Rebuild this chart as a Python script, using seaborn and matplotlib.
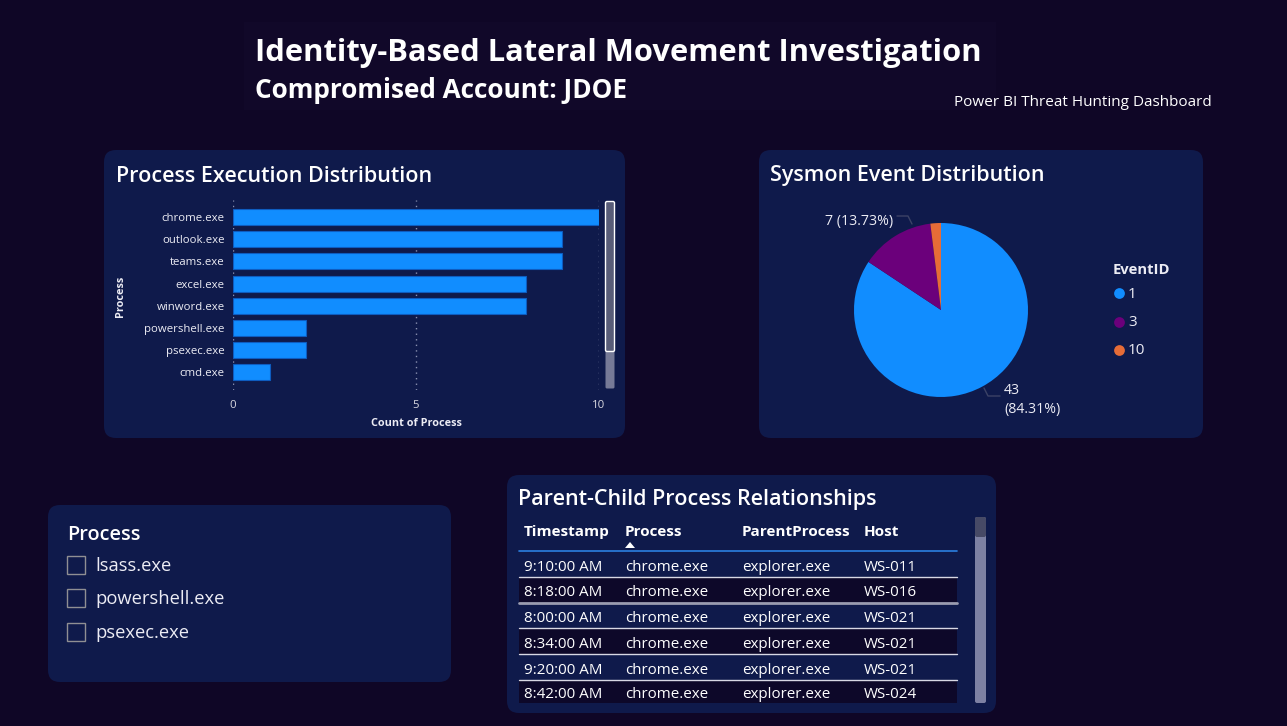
import matplotlib
matplotlib.use("Agg")
import matplotlib.pyplot as plt
from matplotlib.patches import FancyBboxPatch, Rectangle, Polygon
import seaborn as sns
import pandas as pd

# ---------------- data ----------------
processes = ["chrome.exe", "outlook.exe", "teams.exe", "excel.exe",
             "winword.exe", "powershell.exe", "psexec.exe", "cmd.exe"]
process_counts = [10, 9, 9, 8, 8, 2, 2, 1]
x_ticks = [0, 5, 10]

event_ids = ["1", "3", "10"]
event_counts = [43, 7, 1]

slicer_items = ["lsass.exe", "powershell.exe", "psexec.exe"]

table_columns = ["Timestamp", "Process", "ParentProcess", "Host"]
tbl_timestamp = ["9:10:00 AM", "8:18:00 AM", "8:00:00 AM", "8:34:00 AM", "9:20:00 AM", "8:42:00 AM"]
tbl_process = ["chrome.exe"] * 6
tbl_parent = ["explorer.exe"] * 6
tbl_host = ["WS-011", "WS-016", "WS-021", "WS-021", "WS-021", "WS-024"]

title = "Identity-Based Lateral Movement Investigation"
subtitle = "Compromised Account: JDOE"
tagline = "Power BI Threat Hunting Dashboard"

# ---------------- style ----------------
W, H = 1287, 726
BG = "#0f0626"
PANEL = "#0f1a4b"
DARKROW = "#0d0829"
BLUE = "#118DFF"
PURPLE = "#6B007B"
ORANGE = "#E66C37"
TXT = "#ffffff"

sns.set_theme(style="dark")
plt.rcParams["font.family"] = ["Open Sans", "DejaVu Sans"]

fig = plt.figure(figsize=(W / 100, H / 100), dpi=100, facecolor=BG)

bg = fig.add_axes([0, 0, 1, 1], zorder=0)
bg.set_xlim(0, W)
bg.set_ylim(H, 0)
bg.axis("off")
bg.set_facecolor(BG)


def panel(x0, y0, x1, y1, color=PANEL, r=12):
    p = FancyBboxPatch((x0 + r, y0 + r), (x1 - x0) - 2 * r, (y1 - y0) - 2 * r,
                       boxstyle=f"round,pad={r}", fc=color, ec="none", zorder=1)
    bg.add_patch(p)


def fx(x):
    return x / W


def fy(y):
    return 1 - y / H


# header box
bg.add_patch(Rectangle((244, 22), 752, 88, fc="#110829", ec="none", zorder=0.5))
bg.text(255, 53, title, color=TXT, fontsize=22.2, fontweight="bold", va="center", ha="left", zorder=3)
bg.text(255, 91, subtitle, color=TXT, fontsize=18.8, fontweight="bold", va="center", ha="left", zorder=3)
bg.text(1212, 103, tagline, color=TXT, fontsize=11, va="center", ha="right", zorder=3)

# panels
panel(104, 150, 625, 438)
panel(759, 150, 1203, 438)
panel(48, 505, 451, 682)
panel(507, 475, 996, 713)

bg.text(116, 176, "Process Execution Distribution", color=TXT, fontsize=15.5, fontweight="semibold", va="center", zorder=3)
bg.text(770, 176, "Sysmon Event Distribution", color=TXT, fontsize=15.5, fontweight="semibold", va="center", zorder=3)
bg.text(518, 500, "Parent-Child Process Relationships", color=TXT, fontsize=15.5, fontweight="semibold", va="center", zorder=3)

# ---------------- bar chart ----------------
bx0, bx1, by0, by1 = 233, 599, 200, 390
axb = fig.add_axes([fx(bx0), fy(by1), (bx1 - bx0) / W, (by1 - by0) / H], zorder=2)
axb.set_facecolor("none")
df_bar = pd.DataFrame({"Process": processes, "Count": process_counts})
sns.barplot(data=df_bar, x="Count", y="Process", ax=axb, color=BLUE, saturation=1,
            width=0.72, edgecolor="#0e5cc0", linewidth=0.8, orient="h")
axb.set_xlim(0, 10)
axb.set_ylim(7.8, -0.77)
axb.set_xticks(x_ticks)
axb.set_xticklabels([str(t) for t in x_ticks])
for t in x_ticks:
    axb.axvline(t, color="#8a90b0", linestyle=(0, (1, 3)), linewidth=1, zorder=0)
axb.grid(False)
for s in axb.spines.values():
    s.set_visible(False)
axb.tick_params(axis="x", colors="#d8d8e0", labelsize=8.2, length=0, pad=7)
axb.tick_params(axis="y", colors="#ffffff", labelsize=8.2, length=0, pad=6)
for lab in axb.get_yticklabels():
    lab.set_color("#ececf4")
axb.set_xlabel("")
axb.set_ylabel("")
bg.text(416, 423, "Count of Process", color="#ececf4", fontsize=7.8, fontweight="bold", ha="center", va="center", zorder=3)
bg.text(120, 296, "Process", color="#ececf4", fontsize=7.8, fontweight="bold", ha="center", va="center", rotation=90, zorder=3)

# scrollbar
bg.add_patch(FancyBboxPatch((607, 203), 6, 184, boxstyle="round,pad=1.5", fc="#767a97", ec="none", zorder=3))
bg.add_patch(FancyBboxPatch((607, 203), 6, 147, boxstyle="round,pad=1.5", fc="#585c78", ec="white", lw=1, zorder=3))

# ---------------- pie ----------------
cx, cy, R = 941, 310, 87
axp = fig.add_axes([fx(cx - R), fy(cy + R), 2 * R / W, 2 * R / H], zorder=2)
axp.pie(event_counts, colors=[BLUE, PURPLE, ORANGE], startangle=90, counterclock=False,
        radius=1, wedgeprops=dict(linewidth=0))
axp.set_xlim(-1, 1)
axp.set_ylim(-1, 1)
axp.set_aspect("equal")
axp.axis("off")

total = sum(event_counts)
bg.text(893, 221, f"{event_counts[1]} ({event_counts[1] / total * 100:.2f}%)", color="#ececf4",
        fontsize=10.2, ha="right", va="center", zorder=3)
bg.plot([897, 908, 912], [216, 216, 224], color="#3c4266", lw=1, zorder=3)
bg.text(1004, 390, f"{event_counts[0]}", color="#ececf4", fontsize=10.2, ha="left", va="center", zorder=3)
bg.text(1004, 410, f"({event_counts[0] / total * 100:.2f}%)", color="#ececf4", fontsize=10.2,
        ha="left", va="center", zorder=3)
bg.plot([984, 988, 1000], [388, 396, 396], color="#3c4266", lw=1, zorder=3)

# legend
bg.text(1113, 270, "EventID", color="#ececf4", fontsize=10.6, fontweight="bold", ha="left", va="center", zorder=3)
for i, (eid, col) in enumerate(zip(event_ids, [BLUE, PURPLE, ORANGE])):
    yy = [293, 322, 350][i]
    bg.scatter([1119], [yy], s=60, color=col, zorder=3, linewidths=0)
    bg.text(1128, yy + 1, eid, color="#ececf4", fontsize=11, ha="left", va="center", zorder=3)

# ---------------- slicer ----------------
bg.text(67, 535, "Process", color=TXT, fontsize=14.3, fontweight="semibold", ha="left", va="center", zorder=3)
for i, item in enumerate(slicer_items):
    yy = [565, 598, 632][i]
    bg.add_patch(Rectangle((67, yy - 9), 18, 18, fc="none", ec="#8f8f93", lw=1, zorder=3))
    bg.text(95, yy + 1, item, color="#ececf4", fontsize=13.2, ha="left", va="center", zorder=3)

# ---------------- table ----------------
col_x = [524, 625, 742, 864]
for cxp, name in zip(col_x, table_columns):
    bg.text(cxp, 532, name, color=TXT, fontsize=11, fontweight="bold", ha="left", va="center", zorder=3)
bg.add_patch(Polygon([[625, 548], [635, 548], [630, 542]], closed=True, fc="white", ec="none", zorder=3))
bg.plot([519, 957], [551, 551], color="#2b7fe0", lw=1.2, zorder=3)

row_edges = [552, 577, 603, 628, 654, 680, 703]
rows = list(zip(tbl_timestamp, tbl_process, tbl_parent, tbl_host))
for i, row in enumerate(rows):
    top, bot = row_edges[i], row_edges[i + 1]
    if i % 2 == 1:
        bg.add_patch(Rectangle((519, top), 438, bot - top, fc=DARKROW, ec="none", zorder=2))
    for cxp, val in zip(col_x, row):
        bg.text(cxp, (top + bot) / 2 + 3, val, color=TXT, fontsize=10.9, ha="left", va="center", zorder=3)
    if i < len(rows) - 1:
        lc = "#9a9cb0" if i == 1 else "#d8d8e4"
        lw = 2 if i == 1 else 1
        bg.plot([519, 957], [bot, bot], color=lc, lw=lw, zorder=3)

# table scrollbar
bg.add_patch(FancyBboxPatch((977, 519), 7, 182, boxstyle="round,pad=2", fc="#7d81a3", ec="none", zorder=3))
bg.add_patch(FancyBboxPatch((977, 519), 7, 16, boxstyle="round,pad=2", fc="#474a66", ec="none", zorder=3))

fig.savefig("out.png", dpi=100, facecolor=BG)
